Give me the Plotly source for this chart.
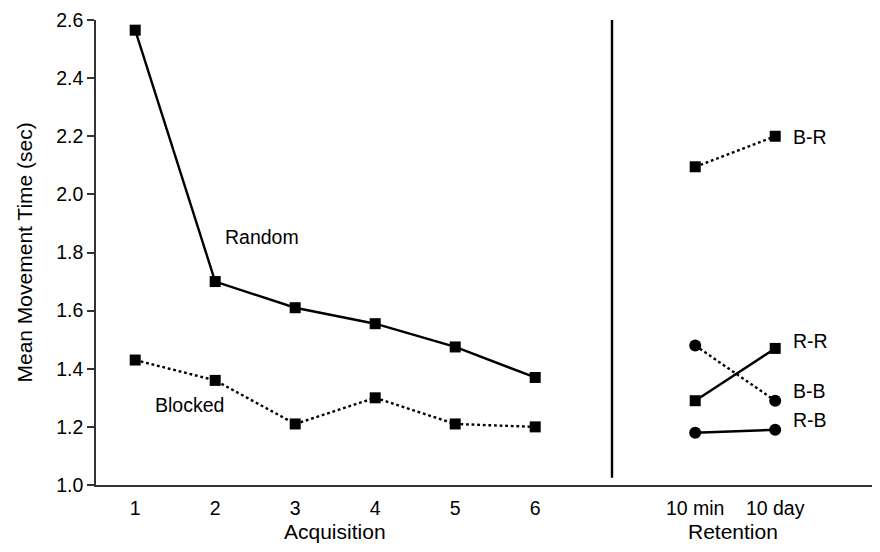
import plotly.graph_objects as go

acq_x = [1, 2, 3, 4, 5, 6]
random_vals = [2.565, 1.70, 1.61, 1.555, 1.475, 1.37]
blocked_vals = [1.43, 1.36, 1.21, 1.30, 1.21, 1.20]

ret_x = [8, 9]
br_vals = [2.095, 2.20]
rr_vals = [1.29, 1.47]
bb_vals = [1.48, 1.29]
rb_vals = [1.18, 1.19]

tick_vals = [1, 2, 3, 4, 5, 6, 8, 9]
tick_text = ["1", "2", "3", "4", "5", "6", "10 min", "10 day"]
y_ticks = [1.0, 1.2, 1.4, 1.6, 1.8, 2.0, 2.2, 2.4, 2.6]

FONT = "Liberation Sans, Arial, Helvetica, sans-serif"
DOT = "2.8px,2.8px"

fig = go.Figure()

def add(x, y, dash, symbol, size):
    fig.add_trace(go.Scatter(
        x=x, y=y, mode="lines+markers",
        line=dict(color="black", width=2.4, dash=dash),
        marker=dict(symbol=symbol, size=size, color="black"),
        showlegend=False, cliponaxis=False))

add(acq_x, random_vals, "solid", "square", 11)
add(acq_x, blocked_vals, DOT, "square", 11)
add(ret_x, br_vals, DOT, "square", 11)
add(ret_x, rr_vals, "solid", "square", 11)
add(ret_x, bb_vals, DOT, "circle", 12)
add(ret_x, rb_vals, "solid", "circle", 12)

# divider between acquisition and retention
fig.add_shape(type="line", x0=6.96, x1=6.96, y0=1.025, y1=2.6,
              xref="x", yref="y", line=dict(color="black", width=2.4))

ann_font = dict(family=FONT, size=19.5, color="black")
labels = [
    (9.196, 2.197, "B-R"),
    (9.196, 1.497, "R-R"),
    (9.196, 1.325, "B-B"),
    (9.196, 1.222, "R-B"),
    (2.10, 1.852, "Random"),
    (1.225, 1.275, "Blocked"),
]
for x, y, t in labels:
    fig.add_annotation(x=x, y=y, text=t, showarrow=False, xanchor="left",
                       yanchor="middle", font=ann_font)

# group titles below the x axis
for x, t in [(3.5, "Acquisition"), (8.47, "Retention")]:
    fig.add_annotation(x=x, y=0, xref="x", yref="paper", yshift=-46,
                       text=t, showarrow=False, yanchor="middle",
                       font=dict(family=FONT, size=21, color="black"))

# y axis title
fig.add_annotation(x=0, y=0.5, xref="paper", yref="paper", xshift=-72,
                   text="Mean Movement Time (sec)", textangle=-90,
                   showarrow=False, xanchor="center", yanchor="middle",
                   font=dict(family=FONT, size=21, color="black"))

fig.update_xaxes(range=[0.51, 10.31], tickvals=tick_vals, ticktext=tick_text,
                 showgrid=False, zeroline=False, showline=True,
                 linecolor="#333333", linewidth=1.5, ticks="",
                 automargin=False, ticklabelstandoff=5,
                 tickfont=dict(family=FONT, size=19.5, color="black"))
fig.update_yaxes(range=[1.0, 2.6], tickvals=y_ticks,
                 ticktext=[f"{v:.1f}" for v in y_ticks],
                 showgrid=False, zeroline=False, showline=True,
                 linecolor="#333333", linewidth=1.5, ticks="outside",
                 ticklen=7, tickcolor="#333333", tickwidth=1.5,
                 automargin=False,
                 tickfont=dict(family=FONT, size=19.5, color="black"))

fig.update_layout(width=880, height=552, plot_bgcolor="white",
                  paper_bgcolor="white",
                  margin=dict(l=88, r=8, t=12, b=75))

fig.write_html("out.html")
